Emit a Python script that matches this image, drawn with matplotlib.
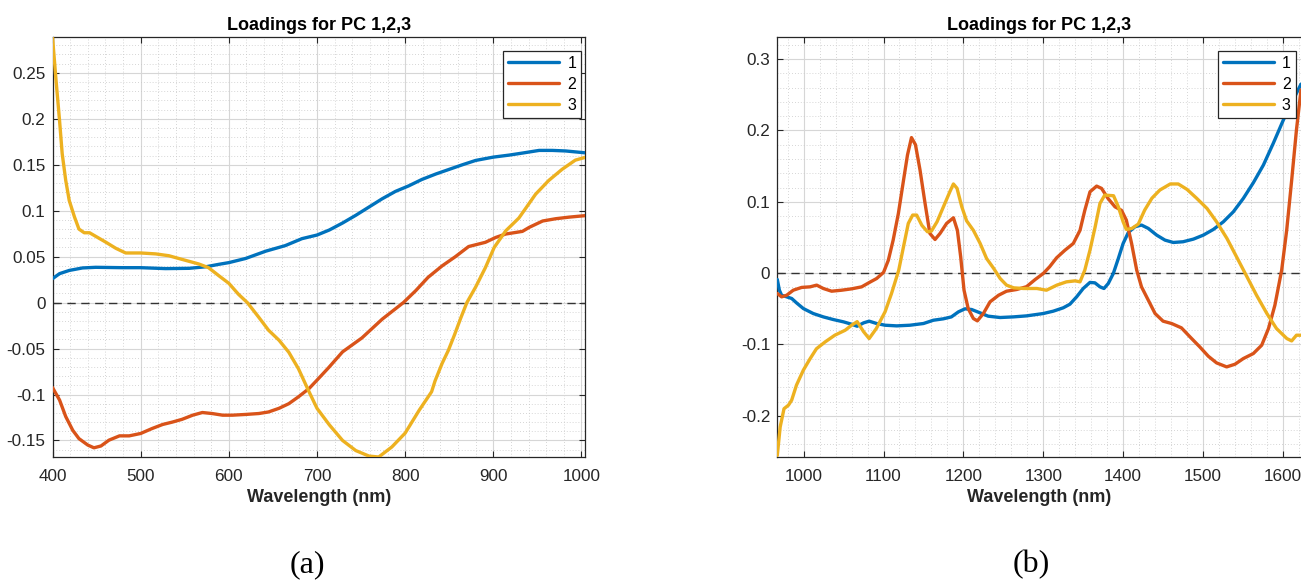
import matplotlib
matplotlib.use("Agg")
import matplotlib.pyplot as plt
from matplotlib.ticker import MultipleLocator, FuncFormatter

# ---------------- data: panel (a) ----------------
a_wl1 = [400, 408, 419, 434, 449, 479, 500, 528, 555, 574,
         589, 600, 619, 642, 664, 683, 700, 714, 729, 744,
         759, 774, 789, 804, 819, 835, 850, 865, 880, 900,
         918, 933, 952, 967, 982, 1004]
a_pc1 = [0.026, 0.0315, 0.035, 0.0377, 0.0384, 0.038, 0.038, 0.037, 0.0373, 0.039,
         0.0417, 0.0435, 0.048, 0.056, 0.062, 0.0696, 0.0735, 0.079, 0.0866, 0.095,
         0.104, 0.113, 0.121, 0.127, 0.134, 0.140, 0.145, 0.150, 0.1547, 0.1583,
         0.1605, 0.1627, 0.1656, 0.1656, 0.165, 0.163]

a_wl2 = [400, 408, 415, 423, 430, 440, 447, 455, 464, 476,
         487, 500, 513, 525, 536, 547, 559, 570, 581, 593,
         604, 619, 634, 645, 657, 668, 679, 691, 700, 713,
         729, 751, 774, 786, 798, 812, 826, 842, 857, 872,
         891, 903, 914, 933, 941, 956, 971, 986, 1004]
a_pc2 = [-0.0924, -0.106, -0.124, -0.139, -0.148, -0.155, -0.158, -0.156, -0.1497, -0.145,
         -0.145, -0.1424, -0.137, -0.1326, -0.130, -0.127, -0.1225, -0.1196, -0.1207, -0.1225,
         -0.1225, -0.1217, -0.1207, -0.119, -0.115, -0.110, -0.1025, -0.0935, -0.0844, -0.071,
         -0.0536, -0.0384, -0.018, -0.009, 0.0, 0.013, 0.0275, 0.040, 0.050, 0.061,
         0.0656, 0.071, 0.0746, 0.0775, 0.082, 0.0888, 0.0913, 0.093, 0.0946]

a_wl3 = [400, 404, 408, 411, 415, 419, 425, 430, 436, 442,
         451, 460, 472, 483, 500, 517, 532, 547, 566, 577,
         589, 600, 611, 621, 634, 645, 657, 668, 679, 690,
         700, 714, 729, 744, 759, 770, 785, 800, 816, 830,
         834, 842, 849, 856, 863, 870, 880, 891, 901, 914,
         929, 948, 963, 978, 993, 1004]
a_pc3 = [0.289, 0.242, 0.198, 0.162, 0.133, 0.111, 0.093, 0.080, 0.076, 0.076,
         0.071, 0.066, 0.059, 0.054, 0.054, 0.053, 0.051, 0.047, 0.042, 0.038,
         0.029, 0.021, 0.009, 0.0, -0.016, -0.030, -0.041, -0.054, -0.072, -0.095,
         -0.115, -0.133, -0.150, -0.161, -0.167, -0.168, -0.157, -0.142, -0.117, -0.097,
         -0.085, -0.066, -0.052, -0.035, -0.017, 0.0, 0.017, 0.038, 0.060, 0.078,
         0.092, 0.118, 0.133, 0.145, 0.155, 0.158]

# ---------------- data: panel (b) ----------------
b_wl1 = [967, 969.6, 972.4, 978.7, 985, 991, 999.6, 1012, 1024.6, 1037,
         1050, 1060, 1067, 1075, 1082, 1091.4, 1102, 1116.5, 1133, 1150,
         1162.4, 1175, 1185, 1193.7, 1202, 1210.4, 1221, 1231, 1246, 1262.6,
         1279, 1300, 1312.5, 1325, 1333.4, 1341.8, 1350, 1358.5, 1364.7, 1371,
         1376, 1381.4, 1387.7, 1394, 1400, 1406.5, 1414.8, 1423, 1431.5, 1442,
         1452.4, 1462.8, 1475, 1488, 1500.4, 1513, 1525.5, 1538, 1550.5, 1563,
         1575.6, 1588, 1600.6, 1613, 1622.7]
b_pc1 = [-0.0089, -0.0239, -0.031, -0.0332, -0.0355, -0.0416, -0.0496, -0.0566, -0.0613, -0.065,
         -0.0683, -0.0716, -0.0744, -0.0697, -0.0673, -0.0706, -0.073, -0.0739, -0.073, -0.0706,
         -0.066, -0.064, -0.0613, -0.0543, -0.050, -0.051, -0.0557, -0.0603, -0.0622, -0.0613,
         -0.0599, -0.0566, -0.0533, -0.0486, -0.0435, -0.0332, -0.0215, -0.013, -0.0136, -0.0192,
         -0.0215, -0.0145, -0.0005, 0.0206, 0.0416, 0.057, 0.065, 0.0674, 0.0627, 0.0533,
         0.0463, 0.043, 0.044, 0.0477, 0.0533, 0.0613, 0.072, 0.086, 0.1048, 0.1267,
         0.1515, 0.182, 0.2147, 0.243, 0.265]

b_wl2 = [967, 972.4, 978.7, 987, 997.5, 1008, 1016.3, 1024.6, 1035, 1047.6,
         1060, 1072.6, 1083, 1091.4, 1100, 1106, 1112, 1118.6, 1125, 1130,
         1135, 1140, 1145.7, 1152, 1158, 1164.5, 1170.8, 1179, 1187.5, 1192.5,
         1196.6, 1200.8, 1206, 1212.5, 1217.5, 1225, 1233.4, 1244, 1254, 1266.8,
         1279, 1289.8, 1300, 1308, 1316.7, 1327, 1337.6, 1346, 1352, 1358.5,
         1366.8, 1373, 1381, 1389.8, 1398, 1404, 1410.6, 1417, 1423, 1431.5,
         1440, 1450, 1460.7, 1473, 1483.7, 1496, 1506.7, 1517, 1529.6, 1540,
         1550.5, 1563, 1573.5, 1582, 1590, 1598.5, 1604.8, 1611, 1617, 1622.7]
b_pc2 = [-0.0285, -0.0332, -0.031, -0.0239, -0.020, -0.0192, -0.0168, -0.0215, -0.0253, -0.0239,
         -0.022, -0.0192, -0.0126, -0.0075, 0.001, 0.018, 0.046, 0.0837, 0.130, 0.1656,
         0.190, 0.180, 0.1445, 0.0978, 0.0557, 0.0472, 0.0557, 0.0697, 0.0776, 0.060,
         0.0229, -0.0239, -0.0496, -0.0636, -0.0669, -0.0566, -0.0402, -0.031, -0.0253, -0.0229,
         -0.019, -0.009, -0.0005, 0.009, 0.0215, 0.032, 0.0416, 0.060, 0.088, 0.114,
         0.122, 0.1188, 0.1048, 0.093, 0.088, 0.0744, 0.0416, 0.0042, -0.0192, -0.0379,
         -0.0566, -0.0673, -0.0706, -0.0767, -0.0893, -0.1034, -0.1165, -0.1258, -0.1314, -0.1277,
         -0.1197, -0.1127, -0.101, -0.0776, -0.045, 0.0042, 0.0603, 0.130, 0.2007, 0.2568]

b_wl3 = [967, 970.6, 975.4, 981, 985, 991, 999.6, 1008, 1016, 1027,
         1039, 1052, 1060, 1067, 1075, 1082, 1091, 1102, 1110, 1119,
         1125, 1131, 1136.5, 1141.5, 1148, 1155, 1160, 1167, 1175, 1183,
         1187.5, 1192, 1198, 1204, 1212.5, 1221, 1229, 1238, 1246, 1254,
         1263, 1275, 1292, 1304, 1317, 1329, 1340, 1346, 1352, 1358.5,
         1365, 1371, 1377, 1388, 1394, 1400, 1404, 1411, 1419, 1427,
         1436, 1446, 1459, 1469, 1480, 1492, 1505, 1517, 1530, 1542,
         1555, 1567, 1580, 1592, 1605, 1611, 1617, 1623]
b_pc3 = [-0.2554, -0.2156, -0.19, -0.185, -0.178, -0.157, -0.136, -0.12, -0.106, -0.0963,
         -0.087, -0.08, -0.073, -0.068, -0.082, -0.0917, -0.0776, -0.054, -0.0285, 0.004,
         0.037, 0.0697, 0.0814, 0.0814, 0.067, 0.058, 0.059, 0.072, 0.093, 0.114,
         0.125, 0.119, 0.093, 0.0734, 0.060, 0.0416, 0.0206, 0.0065, -0.0075, -0.0168,
         -0.0206, -0.0215, -0.0215, -0.0239, -0.0168, -0.0122, -0.0108, -0.0122, 0.0042, 0.0323,
         0.065, 0.0978, 0.1094, 0.1085, 0.093, 0.072, 0.0613, 0.0627, 0.0688, 0.0884,
         0.105, 0.1165, 0.125, 0.125, 0.1174, 0.105, 0.0907, 0.072, 0.0486, 0.0229,
         -0.005, -0.0309, -0.0566, -0.0776, -0.0917, -0.095, -0.087, -0.087]

series_labels = ["1", "2", "3"]
title_text = "Loadings for PC 1,2,3"
xlabel_text = "Wavelength (nm)"
panel_labels = ["(a)", "(b)"]
baseline = 0.0

# ---------------- style ----------------
colors = ["#0072BD", "#D95319", "#EDB120"]
axis_color = "#262626"
plt.rcParams["font.family"] = ["Liberation Sans", "DejaVu Sans"]

fig = plt.figure(figsize=(13.01, 5.82), dpi=100)
W, H = 1301.0, 582.0

def make_axes(l, r, t, b):
    return fig.add_axes([l / W, 1 - b / H, (r - l) / W, (b - t) / H])

ax_a = make_axes(52.5, 585, 37, 457)
ax_b = make_axes(777.3, 1301, 37, 457)

fmt = FuncFormatter(lambda v, p: "%g" % round(v, 4))

def style(ax, xlim, ylim, xmaj, xmin, ymaj, ymin, right_visible=True):
    ax.set_xlim(*xlim)
    ax.set_ylim(*ylim)
    ax.xaxis.set_major_locator(MultipleLocator(xmaj))
    ax.xaxis.set_minor_locator(MultipleLocator(xmin))
    ax.yaxis.set_major_locator(MultipleLocator(ymaj))
    ax.yaxis.set_minor_locator(MultipleLocator(ymin))
    ax.yaxis.set_major_formatter(fmt)
    ax.xaxis.set_major_formatter(fmt)
    ax.grid(True, which="major", color="#d6d6d6", linewidth=0.8, linestyle="-")
    ax.grid(True, which="minor", color="#c8c8c8", linewidth=0.6, linestyle=(0, (1, 2.5)))
    ax.set_axisbelow(True)
    ax.tick_params(which="major", direction="in", length=4.5, width=0.8,
                   top=True, right=right_visible, colors=axis_color,
                   labelsize=12.3, pad=5)
    ax.tick_params(axis="x", which="major", pad=8.5)
    ax.tick_params(which="minor", length=0, top=True, right=right_visible)
    for s in ax.spines.values():
        s.set_color(axis_color)
        s.set_linewidth(0.9)
    if not right_visible:
        ax.spines["right"].set_visible(False)
    ax.set_title(title_text, fontsize=13, fontweight="bold", color="black", pad=5)
    ax.set_xlabel(xlabel_text, fontsize=13, fontweight="bold", color=axis_color, labelpad=4)

def draw(ax, data, legend_anchor):
    for (x, y), c, lab in zip(data, colors, series_labels):
        ax.plot(x, y, color=c, linewidth=2.4, label=lab, solid_joinstyle="round",
                solid_capstyle="round", zorder=3)
    ax.axhline(baseline, color="#333333", linewidth=1.0, linestyle=(0, (6, 4)), zorder=2)
    leg = ax.legend(loc="upper right", bbox_to_anchor=legend_anchor, borderaxespad=0,
                    fontsize=11.5, handlelength=3.2, handletextpad=0.5, borderpad=0.3,
                    labelspacing=0.38, fancybox=False, framealpha=1, edgecolor=axis_color)
    leg.get_frame().set_linewidth(0.9)

draw(ax_a, [(a_wl1, a_pc1), (a_wl2, a_pc2), (a_wl3, a_pc3)],
     (1 - 4 / 532.5, 1 - 14 / 420))
style(ax_a, (400, 1004), (-0.168, 0.289), 100, 20, 0.05, 0.01)

draw(ax_b, [(b_wl1, b_pc1), (b_wl2, b_pc2), (b_wl3, b_pc3)],
     (1 - 5.5 / 523.7, 1 - 14 / 420))
style(ax_b, (967, 1622.7), (-0.2577, 0.331), 100, 20, 0.1, 0.02, right_visible=False)

fig.text(307.5 / W, 1 - 565 / H, panel_labels[0], fontsize=23,
         family=["Liberation Serif", "DejaVu Serif"], ha="center", va="center")
fig.text(1031 / W, 1 - 565 / H, panel_labels[1], fontsize=23,
         family=["Liberation Serif", "DejaVu Serif"], ha="center", va="center")

fig.savefig("out.png", dpi=100, facecolor="white")
